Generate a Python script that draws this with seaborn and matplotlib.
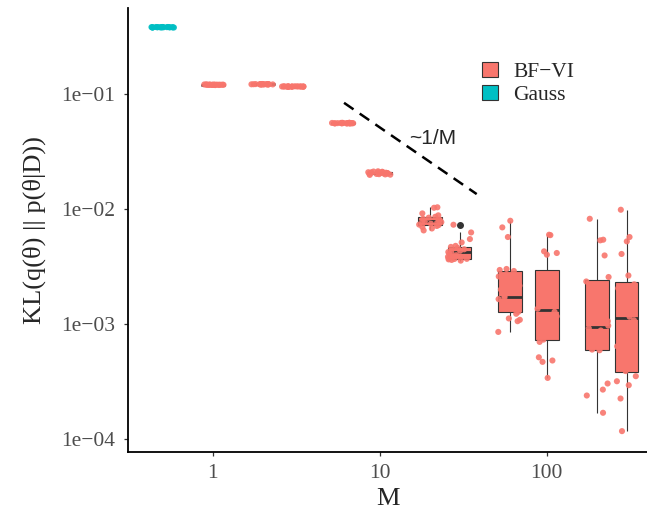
import numpy as np
import pandas as pd
import matplotlib
matplotlib.use("Agg")
import matplotlib.pyplot as plt
from matplotlib.ticker import NullLocator
import seaborn as sns

# ---------------- data ----------------
methods = ["BF\u2212VI", "Gauss"]
colors = ["#F8766D", "#00BFC4"]

gauss_M = 0.5
gauss_kl = [0.383, 0.385, 0.384, 0.386, 0.382, 0.384, 0.385, 0.383, 0.384, 0.386,
            0.385, 0.383, 0.384, 0.382, 0.385, 0.384, 0.386, 0.383, 0.384, 0.385]

bfvi_M = [1, 2, 3, 6, 10, 20, 30, 60, 100, 200, 300]
kl_m1 = [0.1205, 0.1212, 0.1218, 0.1209, 0.1215, 0.1220, 0.1211, 0.1207, 0.1216, 0.1213,
         0.1219, 0.1210, 0.1214, 0.1208, 0.1217, 0.1212, 0.1215, 0.1211, 0.1218, 0.1213]
kl_m2 = [0.1222, 0.1228, 0.1225, 0.1219, 0.1231, 0.1224, 0.1227, 0.1221, 0.1229, 0.1226,
         0.1223, 0.1230, 0.1225, 0.1220, 0.1228, 0.1224, 0.1226, 0.1222, 0.1227, 0.1225]
kl_m3 = [0.1167, 0.1173, 0.1170, 0.1164, 0.1176, 0.1169, 0.1172, 0.1166, 0.1174, 0.1171,
         0.1168, 0.1175, 0.1170, 0.1165, 0.1173, 0.1169, 0.1171, 0.1167, 0.1172, 0.1170]
kl_m6 = [0.0558, 0.0564, 0.0561, 0.0566, 0.0559, 0.0563, 0.0560, 0.0565, 0.0562, 0.0557,
         0.0563, 0.0561, 0.0564, 0.0560, 0.0562, 0.0566, 0.0559, 0.0563, 0.0561, 0.0562]
kl_m10 = [0.0199, 0.0203, 0.0206, 0.0209, 0.0212, 0.0201, 0.0205, 0.0208, 0.0210, 0.0214,
          0.0202, 0.0204, 0.0207, 0.0211, 0.0206, 0.0200, 0.0208, 0.0213, 0.0205, 0.0209]
kl_m20 = [0.00654, 0.00680, 0.00700, 0.00715, 0.00728, 0.00735, 0.00748, 0.00760, 0.00772, 0.00780,
          0.00786, 0.00795, 0.00808, 0.00825, 0.00845, 0.00860, 0.00885, 0.00920, 0.01030, 0.01040]
kl_m30 = [0.00357, 0.00362, 0.00366, 0.00369, 0.00370, 0.00373, 0.00385, 0.00398, 0.00410, 0.00418,
          0.00424, 0.00435, 0.00448, 0.00460, 0.00470, 0.00480, 0.00514, 0.00550, 0.00628, 0.00733]
kl_m60 = [0.000855, 0.00106, 0.00109, 0.00112, 0.00123, 0.00128, 0.00138, 0.00150, 0.00165, 0.00170,
          0.00176, 0.00200, 0.00216, 0.00260, 0.00290, 0.00296, 0.00302, 0.00573, 0.00695, 0.00794]
kl_m100 = [0.00034, 0.000469, 0.000482, 0.000514, 0.000700, 0.000733, 0.000914, 0.00105, 0.00117, 0.00128,
           0.00136, 0.00160, 0.00200, 0.00233, 0.00265, 0.00402, 0.00416, 0.00430, 0.00595, 0.00600]
kl_m200 = [0.000169, 0.000239, 0.000269, 0.000304, 0.000592, 0.000600, 0.00068, 0.00078, 0.00088, 0.00092,
           0.00097, 0.00106, 0.00140, 0.00190, 0.00235, 0.00257, 0.00396, 0.00536, 0.00543, 0.00826]
kl_m300 = [0.000117, 0.000225, 0.000294, 0.000318, 0.000352, 0.000390, 0.000569, 0.000641, 0.00085, 0.00108,
           0.00116, 0.00140, 0.00175, 0.00205, 0.00222, 0.00265, 0.00408, 0.00525, 0.00573, 0.00990]
bfvi_kl = [kl_m1, kl_m2, kl_m3, kl_m6, kl_m10, kl_m20, kl_m30, kl_m60, kl_m100, kl_m200, kl_m300]

x_ticks = [1, 10, 100]
x_tick_labels = ["1", "10", "100"]
y_ticks = [1e-1, 1e-2, 1e-3, 1e-4]
y_tick_labels = ["1e\u221201", "1e\u221202", "1e\u221203", "1e\u221204"]

ref_M = np.array([6.1, 38.0])
ref_const = 0.515
ref_text = "~1/M"

# ---------------- frame ----------------
rows = [(gauss_M, v, methods[1]) for v in gauss_kl]
for m, vals in zip(bfvi_M, bfvi_kl):
    rows += [(m, v, methods[0]) for v in vals]
df = pd.DataFrame(rows, columns=["M", "KL", "method"])
pal = dict(zip(methods, colors))

sns.set_style("white")
plt.rcParams["font.family"] = ["Liberation Serif", "DejaVu Serif"]

fig = plt.figure(figsize=(6.47, 5.12), dpi=100)
ax = fig.add_axes([128 / 647, 60 / 512, (647 - 128) / 647, (452 - 8) / 512])

sns.boxplot(data=df, x="M", y="KL", hue="method", hue_order=methods, palette=pal,
            native_scale=True, log_scale=(10, 10), dodge=False, width=0.8,
            linecolor="#333333", linewidth=0.8, showcaps=False, saturation=1,
            medianprops={"linewidth": 2.0, "color": "#333333"},
            flierprops={"marker": "o", "markerfacecolor": "#333333",
                        "markeredgecolor": "#333333", "markersize": 4},
            ax=ax)

np.random.seed(7)
sns.stripplot(data=df, x="M", y="KL", hue="method", hue_order=methods, palette=pal,
              native_scale=True, log_scale=(10, 10), dodge=False, jitter=0.4,
              size=4.4, linewidth=0, alpha=0.9, legend=False, ax=ax, zorder=3)

ax.plot(ref_M, ref_const / ref_M, color="black", lw=1.8, ls=(0, (4.6, 3.0)), zorder=4)
ax.text(20.7, 0.0415, ref_text, family=["Liberation Sans", "DejaVu Sans"], fontsize=15,
        ha="center", va="center")

ax.set_xlim(0.31, 398)
ax.set_ylim(7.7e-5, 0.565)
ax.set_xticks(x_ticks, labels=x_tick_labels)
ax.set_yticks(y_ticks, labels=y_tick_labels)
ax.xaxis.set_minor_locator(NullLocator())
ax.yaxis.set_minor_locator(NullLocator())
ax.tick_params(axis="both", which="major", length=3, width=0.9, color="#333333",
               labelcolor="#4D4D4D", labelsize=15.5, bottom=True, left=True)
ax.tick_params(axis="y", pad=6)
ax.tick_params(axis="x", pad=6)

for s in ["top", "right"]:
    ax.spines[s].set_visible(False)
for s in ["left", "bottom"]:
    ax.spines[s].set_color("black")
    ax.spines[s].set_linewidth(1.3)

ax.set_xlabel("M", fontsize=19, labelpad=3)
ax.set_ylabel("KL(q(\u03b8) || p(\u03b8|D))", fontsize=19, labelpad=11)

sns.move_legend(ax, "upper left", bbox_to_anchor=(0.645, 0.922), frameon=False,
                title=None, fontsize=15.5, handlelength=0.75, handleheight=0.7,
                handletextpad=0.7, labelspacing=0.12)

fig.savefig("out.png", dpi=100)
